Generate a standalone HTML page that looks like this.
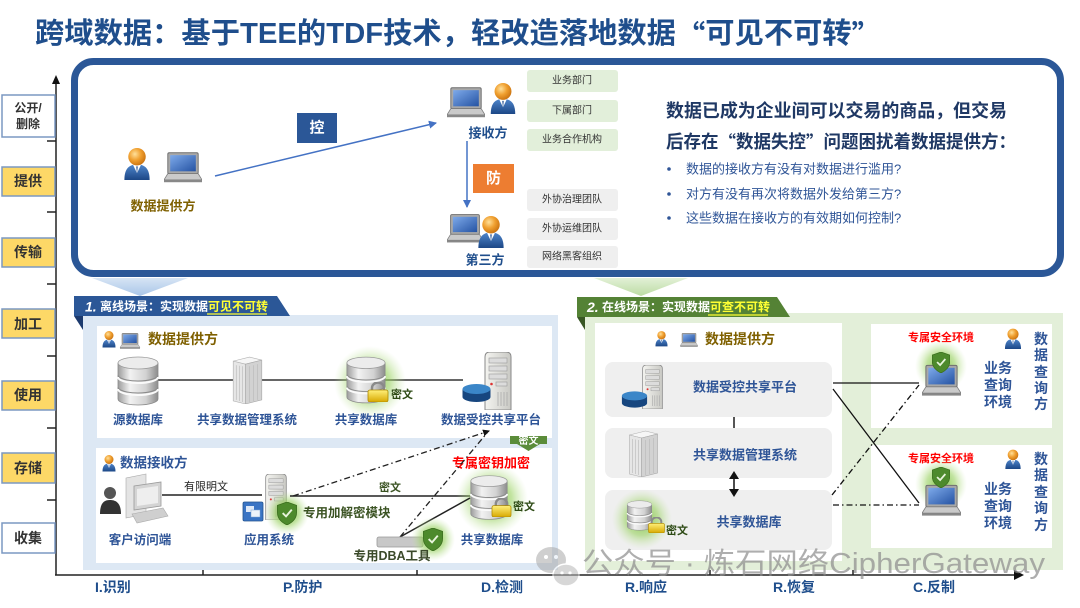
<!DOCTYPE html>
<html><head><meta charset="utf-8">
<style>
html,body{margin:0;padding:0;background:#fff;}
body{width:1080px;height:608px;overflow:hidden;}
svg{display:block;font-family:"Liberation Sans","Noto Sans CJK SC",sans-serif;}
</style></head>
<body>
<svg width="1080" height="608" viewBox="0 0 1080 608" xmlns="http://www.w3.org/2000/svg">
<defs>
 <linearGradient id="gBody" x1="0" y1="0" x2="0" y2="1"><stop offset="0" stop-color="#4f86cc"/><stop offset="1" stop-color="#1c4786"/></linearGradient>
 <radialGradient id="gHead" cx="0.38" cy="0.35" r="0.7"><stop offset="0" stop-color="#ffe09a"/><stop offset="0.5" stop-color="#f0a030"/><stop offset="1" stop-color="#c8700e"/></radialGradient>
 <linearGradient id="gScreen" x1="0" y1="0" x2="1" y2="1"><stop offset="0" stop-color="#7eaaea"/><stop offset="1" stop-color="#2553a3"/></linearGradient>
 <linearGradient id="gDb" x1="0" y1="0" x2="1" y2="0"><stop offset="0" stop-color="#9c9c9c"/><stop offset="0.3" stop-color="#f2f2f2"/><stop offset="0.7" stop-color="#d2d2d2"/><stop offset="1" stop-color="#8c8c8c"/></linearGradient>
 <linearGradient id="gSrv" x1="0" y1="0" x2="1" y2="0"><stop offset="0" stop-color="#f4f4f0"/><stop offset="1" stop-color="#c9c9c4"/></linearGradient>
 <linearGradient id="gLock" x1="0" y1="0" x2="0" y2="1"><stop offset="0" stop-color="#fff07a"/><stop offset="1" stop-color="#d7a800"/></linearGradient>
 <radialGradient id="gGlow"><stop offset="0" stop-color="#7cc040" stop-opacity="0.95"/><stop offset="0.55" stop-color="#9ad262" stop-opacity="0.6"/><stop offset="1" stop-color="#c8e6a8" stop-opacity="0"/></radialGradient>
 <linearGradient id="gChevB" x1="0" y1="0" x2="0" y2="1"><stop offset="0" stop-color="#d6e4f4"/><stop offset="1" stop-color="#a9c6e8"/></linearGradient>
 <linearGradient id="gChevG" x1="0" y1="0" x2="0" y2="1"><stop offset="0" stop-color="#e2f0d6"/><stop offset="1" stop-color="#bcdca4"/></linearGradient>
 <marker id="arrB" markerWidth="8" markerHeight="8" refX="7" refY="4" orient="auto" markerUnits="userSpaceOnUse"><path d="M0,0 L8,4 L0,8 Z" fill="#4472c4"/></marker>
 <marker id="arrK" markerWidth="7" markerHeight="7" refX="6" refY="3.5" orient="auto" markerUnits="userSpaceOnUse"><path d="M0,0 L7,3.5 L0,7 Z" fill="#111"/></marker>

 <symbol id="person" viewBox="0 0 28 34">
  <path d="M1,34 C1,22 6,18 14,18 C22,18 27,22 27,34 Z" fill="url(#gBody)"/>
  <path d="M10,18.5 L14,27 L18,18.5 Z" fill="#fff"/>
  <path d="M13.2,20 L14,28 L14.8,20 Z" fill="#2a5597"/>
  <circle cx="14" cy="10" r="9" fill="url(#gHead)"/>
 </symbol>
 <symbol id="laptop" viewBox="0 0 40 32">
  <rect x="4" y="0.5" width="32" height="22" rx="1.5" fill="#a8a8a8" stroke="#6e6e6e" stroke-width="1"/>
  <rect x="6.5" y="3" width="27" height="17" fill="url(#gScreen)"/>
  <path d="M4,22.5 L36,22.5 L40,29 L0,29 Z" fill="#cacaca" stroke="#7a7a7a" stroke-width="0.8"/>
  <rect x="0" y="29" width="40" height="2.5" fill="#888"/>
 </symbol>
 <symbol id="db" viewBox="0 0 44 50">
  <path d="M2,7 L2,43 A20,6 0 0 0 42,43 L42,7 Z" fill="url(#gDb)" stroke="#8a8a8a" stroke-width="0.8"/>
  <path d="M2,19 A20,6 0 0 0 42,19" fill="none" stroke="#8a8a8a" stroke-width="1"/>
  <path d="M2,21 A20,6 0 0 0 42,21" fill="none" stroke="#fafafa" stroke-width="2"/>
  <path d="M2,31 A20,6 0 0 0 42,31" fill="none" stroke="#8a8a8a" stroke-width="1"/>
  <path d="M2,33 A20,6 0 0 0 42,33" fill="none" stroke="#fafafa" stroke-width="2"/>
  <ellipse cx="22" cy="7" rx="20" ry="6" fill="#ececec" stroke="#9a9a9a" stroke-width="0.8"/>
 </symbol>
 <symbol id="tower" viewBox="0 0 32 48">
  <polygon points="2,6 18,2 30,5 14,9" fill="#f6f6f6" stroke="#b0b0b0" stroke-width="0.6"/>
  <polygon points="2,6 14,9 14,48 2,45" fill="#e6e6e6" stroke="#b0b0b0" stroke-width="0.6"/>
  <polygon points="14,9 30,5 30,44 14,48" fill="#d2d2d2" stroke="#a8a8a8" stroke-width="0.6"/>
  <g stroke="#b8b8b8" stroke-width="0.6"><line x1="5" y1="10" x2="5" y2="44"/><line x1="8" y1="10.5" x2="8" y2="45"/><line x1="11" y1="11" x2="11" y2="46"/>
  <line x1="18" y1="11" x2="18" y2="46"/><line x1="22" y1="10" x2="22" y2="45"/><line x1="26" y1="9" x2="26" y2="44"/></g>
 </symbol>
 <symbol id="server" viewBox="0 0 30 58">
  <path d="M2,5 Q2,0 7,0 L23,0 Q28,0 28,5 L28,58 L2,58 Z" fill="url(#gSrv)" stroke="#8a8a8a" stroke-width="1"/>
  <g fill="#dcdcdc" stroke="#999" stroke-width="0.6"><rect x="6" y="6" width="18" height="5"/><rect x="6" y="14" width="18" height="5"/><rect x="6" y="22" width="18" height="5"/><rect x="13" y="30" width="11" height="4"/></g>
  <circle cx="8.5" cy="32" r="1.3" fill="#d33"/>
  <g stroke="#aaa" stroke-width="0.8"><line x1="15" y1="40" x2="15" y2="54"/><line x1="18" y1="40" x2="18" y2="54"/><line x1="21" y1="40" x2="21" y2="54"/><line x1="24" y1="40" x2="24" y2="54"/></g>
 </symbol>
 <symbol id="disc" viewBox="0 0 30 20">
  <path d="M1,6 L1,14 A14,5 0 0 0 29,14 L29,6 Z" fill="#17467f"/>
  <ellipse cx="15" cy="6" rx="14" ry="5" fill="#3b86c8"/>
 </symbol>
 <symbol id="shield" viewBox="0 0 20 24">
  <path d="M10,0 L20,3.5 L20,11 C20,18 15,21.5 10,24 C5,21.5 0,18 0,11 L0,3.5 Z" fill="#4d8a2c" stroke="#3a6d1e" stroke-width="0.8"/>
  <path d="M5.5,11.5 L9,15 L15,8" fill="none" stroke="#e8f4dc" stroke-width="2"/>
 </symbol>
 <symbol id="lock" viewBox="0 0 22 20">
  <path d="M5,9 L5,6 A6,5.5 0 0 1 17,6 L17,9" fill="none" stroke="#8a8a8a" stroke-width="2.5"/>
  <rect x="1" y="8" width="20" height="12" rx="2" fill="url(#gLock)" stroke="#b08a00" stroke-width="0.8"/>
 </symbol>
</defs>

<!-- Title -->
<text x="35" y="34" font-size="29" font-weight="bold" fill="#1f4e8c" dominant-baseline="central" textLength="846" lengthAdjust="spacingAndGlyphs">跨域数据：基于TEE的TDF技术，轻改造落地数据<tspan font-family="Noto Sans CJK SC, sans-serif">“</tspan>可见不可转<tspan font-family="Noto Sans CJK SC, sans-serif">”</tspan></text>

<!-- Axes -->
<g stroke="#222" stroke-width="1.5" fill="none">
 <line x1="56" y1="82" x2="56" y2="575"/>
 <line x1="55" y1="575" x2="1016" y2="575"/>
 <line x1="47" y1="141" x2="56" y2="141"/><line x1="47" y1="212" x2="56" y2="212"/><line x1="47" y1="284" x2="56" y2="284"/>
 <line x1="47" y1="356" x2="56" y2="356"/><line x1="47" y1="428" x2="56" y2="428"/><line x1="47" y1="500" x2="56" y2="500"/>
 <line x1="203" y1="567" x2="203" y2="575"/><line x1="417" y1="567" x2="417" y2="575"/><line x1="710" y1="567" x2="710" y2="575"/><line x1="853" y1="567" x2="853" y2="575"/>
</g>
<path d="M52,84 L56,75 L60,84 Z" fill="#111"/>
<path d="M1014,570 L1024,575 L1014,580 Z" fill="#111"/>

<!-- Left labels -->
<g stroke="#7b98c2" stroke-width="1.5">
 <rect x="2" y="95" width="53" height="42" fill="#fff"/>
 <rect x="2" y="167" width="53" height="29" fill="#fdd867"/>
 <rect x="2" y="238" width="53" height="29" fill="#fdd867"/>
 <rect x="2" y="309" width="53" height="29" fill="#fdd867"/>
 <rect x="2" y="381" width="53" height="29" fill="#fdd867"/>
 <rect x="2" y="453" width="53" height="30" fill="#fdd867"/>
 <rect x="2" y="523" width="53" height="30" fill="#fff"/>
</g>
<g font-weight="bold" fill="#333" text-anchor="middle" dominant-baseline="central">
 <text x="28" y="108" font-size="12">公开/</text>
 <text x="28" y="124" font-size="12">删除</text>
 <text x="28" y="181" font-size="14">提供</text>
 <text x="28" y="252" font-size="14">传输</text>
 <text x="28" y="324" font-size="14">加工</text>
 <text x="28" y="395" font-size="14">使用</text>
 <text x="28" y="468" font-size="14">存储</text>
 <text x="28" y="538" font-size="14">收集</text>
</g>

<!-- Bottom labels -->
<g font-weight="bold" fill="#1f4e8c" font-size="14" dominant-baseline="central">
 <text x="95" y="587">I.识别</text>
 <text x="283" y="587">P.防护</text>
 <text x="481" y="587">D.检测</text>
 <text x="625" y="587">R.响应</text>
 <text x="773" y="587">R.恢复</text>
 <text x="913" y="587">C.反制</text>
</g>

<!-- Top panel -->
<rect x="74.5" y="61.5" width="986" height="212" rx="19" fill="#fff" stroke="#2b5797" stroke-width="7"/>

<use href="#person" x="123" y="147" width="28" height="33"/>
<use href="#laptop" x="164" y="152" width="38" height="31"/>
<text x="163" y="206" font-size="13" font-weight="bold" fill="#7f6000" text-anchor="middle" dominant-baseline="central">数据提供方</text>

<line x1="215" y1="176" x2="436" y2="123" stroke="#4472c4" stroke-width="1.5" marker-end="url(#arrB)"/>
<rect x="297" y="113" width="40" height="30" fill="#2b5797"/>
<text x="317" y="128" font-size="15" font-weight="bold" fill="#fff" text-anchor="middle" dominant-baseline="central">控</text>

<use href="#laptop" x="447" y="87" width="38" height="31"/>
<use href="#person" x="489" y="82" width="28" height="32"/>
<text x="488" y="133" font-size="13" font-weight="bold" fill="#1f4e8c" text-anchor="middle" dominant-baseline="central">接收方</text>
<line x1="467" y1="141" x2="467" y2="207" stroke="#4472c4" stroke-width="1.5" marker-end="url(#arrB)"/>
<rect x="473" y="164" width="41" height="29" fill="#ed7d31"/>
<text x="493.5" y="178.5" font-size="15" font-weight="bold" fill="#fff" text-anchor="middle" dominant-baseline="central">防</text>
<use href="#laptop" x="447" y="213" width="36" height="31"/>
<use href="#person" x="477" y="215" width="28" height="33"/>
<text x="485" y="260" font-size="13" font-weight="bold" fill="#1f4e8c" text-anchor="middle" dominant-baseline="central">第三方</text>

<g>
 <rect x="527" y="70" width="91" height="22" rx="3" fill="#e2efda"/>
 <rect x="527" y="100" width="91" height="22" rx="3" fill="#e2efda"/>
 <rect x="527" y="129" width="91" height="22" rx="3" fill="#e2efda"/>
 <rect x="527" y="189" width="91" height="22" rx="3" fill="#efefef"/>
 <rect x="527" y="218" width="91" height="22" rx="3" fill="#efefef"/>
 <rect x="527" y="246" width="91" height="22" rx="3" fill="#efefef"/>
</g>
<g font-size="10" fill="#333" text-anchor="middle" dominant-baseline="central">
 <text x="572" y="81">业务部门</text>
 <text x="572" y="111">下属部门</text>
 <text x="572" y="140">业务合作机构</text>
 <text x="572" y="200">外协治理团队</text>
 <text x="572" y="229">外协运维团队</text>
 <text x="572" y="257">网络黑客组织</text>
</g>

<g font-weight="bold" fill="#1f3864" dominant-baseline="central">
 <text x="666" y="111" font-size="18" textLength="341" lengthAdjust="spacingAndGlyphs">数据已成为企业间可以交易的商品，但交易</text>
 <text x="666" y="142" font-size="18" textLength="350" lengthAdjust="spacingAndGlyphs">后存在<tspan font-family="Noto Sans CJK SC, sans-serif">“</tspan>数据失控<tspan font-family="Noto Sans CJK SC, sans-serif">”</tspan>问题困扰着数据提供方：</text>
</g>
<g fill="#2f5597" font-size="13" dominant-baseline="central">
 <circle cx="669" cy="169" r="1.8"/><circle cx="669" cy="194" r="1.8"/><circle cx="669" cy="218" r="1.8"/>
 <text x="686" y="169">数据的接收方有没有对数据进行滥用?</text>
 <text x="686" y="194">对方有没有再次将数据外发给第三方?</text>
 <text x="686" y="218">这些数据在接收方的有效期如何控制?</text>
</g>

<!-- chevrons -->
<polygon points="92,278 188,278 140,296" fill="url(#gChevB)"/>
<polygon points="594,278 688,278 641,296" fill="url(#gChevG)"/>

<!-- Section 1 -->
<rect x="83" y="315" width="475" height="255" fill="#dde8f4"/>
<polygon points="74,296 277,296 290,316 74,316" fill="#2b5797"/>
<polygon points="74,316 83,316 83,330" fill="#1c3a6e"/>
<text x="85" y="306.5" font-size="12" font-weight="bold" fill="#fff" dominant-baseline="central"><tspan font-style="italic" font-size="14">1.</tspan> 离线场景：实现数据<tspan fill="#ffff33">可见不可转</tspan></text>
<line x1="207" y1="314" x2="267" y2="314" stroke="#ffff33" stroke-width="1.2"/>

<rect x="97" y="326" width="455" height="112" fill="#fff"/>
<rect x="96" y="448" width="456" height="115" fill="#fff"/>

<!-- provider row -->
<use href="#person" x="102" y="330" width="14" height="18"/>
<use href="#laptop" x="117" y="333" width="26" height="16"/>
<text x="148" y="339" font-size="14" font-weight="bold" fill="#7f6000" dominant-baseline="central">数据提供方</text>
<line x1="158" y1="380" x2="463" y2="380" stroke="#666" stroke-width="2"/>
<use href="#db" x="115" y="356" width="46" height="50"/>
<use href="#tower" x="231" y="355" width="33" height="49"/>
<circle cx="370" cy="382" r="36" fill="url(#gGlow)"/>
<use href="#db" x="345" y="356" width="42" height="48"/>
<use href="#lock" x="367" y="382" width="22" height="20"/>
<text x="391" y="395" font-size="11" font-weight="bold" fill="#2d4a14" dominant-baseline="central">密文</text>
<use href="#server" x="483" y="352" width="30" height="58"/>
<use href="#disc" x="461" y="383" width="31" height="20"/>
<g font-size="12.5" font-weight="bold" fill="#2f5597" text-anchor="middle" dominant-baseline="central">
 <text x="138" y="420">源数据库</text>
 <text x="247" y="420">共享数据管理系统</text>
 <text x="366" y="420">共享数据库</text>
 <text x="491" y="420">数据受控共享平台</text>
</g>

<!-- green 密文 tag -->
<path d="M510,436 L547,436 L547,444 L540,444 L528.5,451 L517,444 L510,444 Z" fill="#5b8c3a"/>
<text x="528.5" y="441.5" font-size="10" font-weight="bold" fill="#fff" text-anchor="middle" dominant-baseline="central">密文</text>

<!-- receiver row -->
<use href="#person" x="102" y="454" width="14" height="18"/>
<text x="120" y="463" font-size="13.5" font-weight="bold" fill="#2f5597" dominant-baseline="central">数据接收方</text>
<!-- client -->
<g>
 <path d="M126,478 L146,474 L146,514 L126,518 Z" fill="#e4e4e4" stroke="#aaa" stroke-width="0.6"/>
 <path d="M134,486 L161,482 L161,506 L134,510 Z" fill="#d4d4d4" stroke="#999" stroke-width="0.8"/>
 <path d="M137,489 L158,486 L158,503 L137,506 Z" fill="#eee"/>
 <path d="M132,514 L163,508 L168,516 L137,523 Z" fill="#cfcfcf" stroke="#aaa" stroke-width="0.6"/>
 <circle cx="110" cy="493" r="6" fill="#555"/>
 <path d="M100,514 C100,503 104,500 110,500 C116,500 121,503 121,514 Z" fill="#333"/>
</g>
<line x1="162" y1="495" x2="262" y2="495" stroke="#222" stroke-width="1.5"/>
<text x="206" y="487" font-size="11" fill="#222" text-anchor="middle" dominant-baseline="central">有限明文</text>
<use href="#server" x="262" y="474" width="28" height="46"/>
<rect x="243" y="502" width="20" height="19" rx="1.5" fill="#3a74c4" stroke="#25548f" stroke-width="0.8"/>
<rect x="246" y="506" width="8" height="6" fill="#dfe9f7"/><rect x="251" y="510" width="9" height="7" fill="#eef3fa" stroke="#7fa3d3" stroke-width="0.5"/>
<circle cx="287" cy="513" r="22" fill="url(#gGlow)"/>
<use href="#shield" x="277" y="502" width="20" height="23"/>
<text x="303" y="513" font-size="12.5" font-weight="bold" fill="#3b5323" dominant-baseline="central">专用加解密模块</text>

<line x1="290" y1="496" x2="470" y2="496" stroke="#222" stroke-width="1.5"/>
<text x="390" y="488" font-size="11" font-weight="bold" fill="#3b5323" text-anchor="middle" dominant-baseline="central">密文</text>

<circle cx="492" cy="499" r="36" fill="url(#gGlow)"/>
<use href="#db" x="469" y="473" width="40" height="49"/>
<use href="#lock" x="490" y="498" width="23" height="19"/>
<text x="513" y="507" font-size="11" font-weight="bold" fill="#2d4a14" dominant-baseline="central">密文</text>
<text x="491" y="463" font-size="13" font-weight="bold" fill="#ff0000" text-anchor="middle" dominant-baseline="central">专属密钥加密</text>

<!-- DBA -->
<line x1="400" y1="537" x2="470" y2="498" stroke="#222" stroke-width="1.5"/>
<line x1="293" y1="496" x2="489" y2="431" stroke="#222" stroke-width="1.3" stroke-dasharray="6 3 1.5 3" marker-end="url(#arrK)"/>
<line x1="400" y1="537" x2="487" y2="433" stroke="#222" stroke-width="1.3" stroke-dasharray="6 3 1.5 3"/>
<rect x="377" y="537" width="46" height="10" rx="2" fill="#c8c8c8" stroke="#999" stroke-width="0.8"/>
<circle cx="433" cy="539" r="22" fill="url(#gGlow)"/>
<use href="#shield" x="423" y="528" width="20" height="23"/>
<text x="392" y="556" font-size="12.5" font-weight="bold" fill="#3b4a2a" text-anchor="middle" dominant-baseline="central">专用DBA工具</text>
<g font-size="12.5" font-weight="bold" fill="#2f5597" text-anchor="middle" dominant-baseline="central">
 <text x="140" y="540">客户访问端</text>
 <text x="269" y="540">应用系统</text>
 <text x="492" y="540">共享数据库</text>
</g>

<!-- Section 2 -->
<rect x="585" y="313" width="478" height="257" fill="#e3efd9"/>
<polygon points="577,297 777,297 790,317 577,317" fill="#548235"/>
<polygon points="577,317 585,317 585,330" fill="#385723"/>
<text x="587" y="307" font-size="12" font-weight="bold" fill="#fff" dominant-baseline="central"><tspan font-style="italic" font-size="14">2.</tspan> 在线场景：实现数据<tspan fill="#ffff33">可查不可转</tspan></text>
<line x1="708" y1="315" x2="768" y2="315" stroke="#ffff33" stroke-width="1.2"/>

<rect x="595" y="323" width="247" height="238" fill="#fff"/>
<use href="#person" x="655" y="330" width="13" height="17"/>
<use href="#laptop" x="677" y="333" width="24" height="14"/>
<text x="705" y="339" font-size="14" font-weight="bold" fill="#7f6000" dominant-baseline="central">数据提供方</text>

<rect x="605" y="362" width="227" height="55" rx="8" fill="#efefef"/>
<rect x="605" y="428" width="227" height="50" rx="8" fill="#efefef"/>
<rect x="605" y="490" width="227" height="60" rx="8" fill="#efefef"/>
<use href="#server" x="640" y="365" width="25" height="44"/>
<use href="#disc" x="621" y="390" width="27" height="19"/>
<line x1="734" y1="417" x2="734" y2="428" stroke="#555" stroke-width="2"/>
<use href="#tower" x="627" y="429" width="33" height="48"/>
<line x1="734" y1="478" x2="734" y2="490" stroke="#111" stroke-width="1.5"/>
<path d="M729,479 L734,471 L739,479 Z" fill="#111"/>
<path d="M729,489 L734,497 L739,489 Z" fill="#111"/>
<circle cx="642" cy="519" r="30" fill="url(#gGlow)"/>
<use href="#db" x="626" y="496" width="27" height="39"/>
<use href="#lock" x="647" y="517" width="19" height="16"/>
<text x="666" y="531" font-size="11" font-weight="bold" fill="#2d4a14" dominant-baseline="central">密文</text>
<g font-size="13" font-weight="bold" fill="#2f5597" text-anchor="middle" dominant-baseline="central">
 <text x="745" y="387">数据受控共享平台</text>
 <text x="745" y="455">共享数据管理系统</text>
 <text x="749" y="522">共享数据库</text>
</g>

<!-- right boxes -->
<rect x="871" y="324" width="181" height="104" fill="#fff"/>
<rect x="871" y="445" width="181" height="103" fill="#fff"/>
<g font-size="11" font-weight="bold" fill="#ff0000" text-anchor="middle" dominant-baseline="central">
 <text x="941" y="338">专属安全环境</text>
 <text x="941" y="459">专属安全环境</text>
</g>
<use href="#person" x="1003" y="328" width="20" height="21"/>
<use href="#person" x="1003" y="449" width="20" height="20"/>
<circle cx="941" cy="366" r="26" fill="url(#gGlow)"/>
<use href="#laptop" x="922" y="364" width="39" height="33"/>
<use href="#shield" x="932" y="352" width="18" height="21"/>
<circle cx="941" cy="484" r="26" fill="url(#gGlow)"/>
<use href="#laptop" x="922" y="484" width="39" height="33"/>
<use href="#shield" x="932" y="467" width="18" height="21"/>
<g font-size="14" font-weight="bold" fill="#2f5597" text-anchor="middle" dominant-baseline="central">
 <text x="998" y="368">业务</text><text x="998" y="385">查询</text><text x="998" y="402">环境</text>
 <text x="998" y="489">业务</text><text x="998" y="506">查询</text><text x="998" y="523">环境</text>
 <text x="1041" y="339">数</text><text x="1041" y="355">据</text><text x="1041" y="372">查</text><text x="1041" y="388">询</text><text x="1041" y="404">方</text>
 <text x="1041" y="459">数</text><text x="1041" y="475">据</text><text x="1041" y="492">查</text><text x="1041" y="508">询</text><text x="1041" y="525">方</text>
</g>

<!-- section 2 connectors -->
<g stroke="#111" stroke-width="1.3" fill="none">
 <line x1="833" y1="383" x2="919" y2="383"/>
 <line x1="833" y1="389" x2="919" y2="503"/>
 <line x1="832" y1="495" x2="919" y2="385" stroke-dasharray="6 3 1.5 3"/>
 <line x1="833" y1="505" x2="919" y2="505" stroke-dasharray="6 3 1.5 3"/>
</g>

<!-- watermark -->
<g opacity="0.55">
 <ellipse cx="551" cy="560" rx="15" ry="13" fill="#a8a8a8"/>
 <ellipse cx="566" cy="575" rx="13" ry="11" fill="#b8b8b8" stroke="#fff" stroke-width="1.5"/>
 <circle cx="546" cy="557" r="2" fill="#fff"/><circle cx="556" cy="557" r="2" fill="#fff"/>
 <circle cx="562" cy="573" r="1.6" fill="#fff"/><circle cx="570" cy="573" r="1.6" fill="#fff"/>
</g>
<text x="582" y="564" font-size="29" fill="#8c8c8c" fill-opacity="0.7" dominant-baseline="central" textLength="463" lengthAdjust="spacingAndGlyphs">公众号 · 炼石网络CipherGateway</text>
</svg>
</body></html>
